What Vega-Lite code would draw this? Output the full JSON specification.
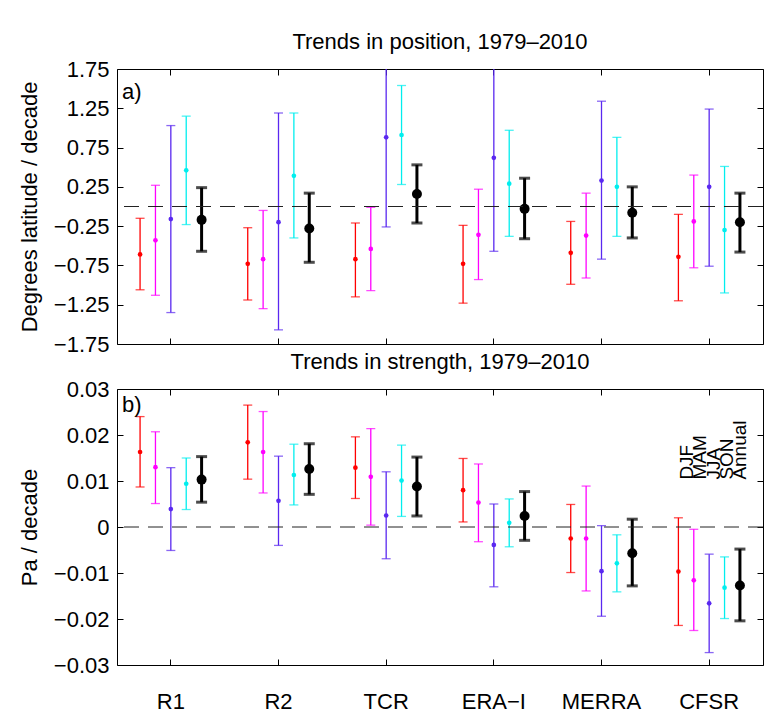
{
  "$schema": "https://vega.github.io/schema/vega-lite/v6.json",
  "background": "white",
  "padding": {"left": 17, "top": 30, "right": 0, "bottom": 0},
  "spacing": -6,
  "datasets": {
    "position": [
      {"name": "R1", "season": "DJF", "mean": -0.61, "lo": -1.06, "hi": -0.15},
      {"name": "R1", "season": "MAM", "mean": -0.43, "lo": -1.13, "hi": 0.27},
      {"name": "R1", "season": "JJA", "mean": -0.16, "lo": -1.35, "hi": 1.03},
      {"name": "R1", "season": "SON", "mean": 0.46, "lo": -0.23, "hi": 1.15},
      {"name": "R1", "season": "Annual", "mean": -0.17, "lo": -0.57, "hi": 0.24},
      {"name": "R2", "season": "DJF", "mean": -0.73, "lo": -1.19, "hi": -0.27},
      {"name": "R2", "season": "MAM", "mean": -0.67, "lo": -1.3, "hi": -0.05},
      {"name": "R2", "season": "JJA", "mean": -0.2, "lo": -1.57, "hi": 1.19},
      {"name": "R2", "season": "SON", "mean": 0.39, "lo": -0.4, "hi": 1.19},
      {"name": "R2", "season": "Annual", "mean": -0.28, "lo": -0.71, "hi": 0.17},
      {"name": "TCR", "season": "DJF", "mean": -0.67, "lo": -1.15, "hi": -0.21},
      {"name": "TCR", "season": "MAM", "mean": -0.54, "lo": -1.07, "hi": -0.01},
      {"name": "TCR", "season": "JJA", "mean": 0.88, "lo": -0.26, "hi": 2.03},
      {"name": "TCR", "season": "SON", "mean": 0.91, "lo": 0.28, "hi": 1.54},
      {"name": "TCR", "season": "Annual", "mean": 0.16, "lo": -0.21, "hi": 0.53},
      {"name": "ERA\u2212I", "season": "DJF", "mean": -0.73, "lo": -1.23, "hi": -0.24},
      {"name": "ERA\u2212I", "season": "MAM", "mean": -0.36, "lo": -0.93, "hi": 0.22},
      {"name": "ERA\u2212I", "season": "JJA", "mean": 0.62, "lo": -0.57, "hi": 1.81},
      {"name": "ERA\u2212I", "season": "SON", "mean": 0.29, "lo": -0.38, "hi": 0.97},
      {"name": "ERA\u2212I", "season": "Annual", "mean": -0.03, "lo": -0.41, "hi": 0.36},
      {"name": "MERRA", "season": "DJF", "mean": -0.59, "lo": -0.99, "hi": -0.19},
      {"name": "MERRA", "season": "MAM", "mean": -0.37, "lo": -0.91, "hi": 0.17},
      {"name": "MERRA", "season": "JJA", "mean": 0.33, "lo": -0.67, "hi": 1.34},
      {"name": "MERRA", "season": "SON", "mean": 0.25, "lo": -0.38, "hi": 0.88},
      {"name": "MERRA", "season": "Annual", "mean": -0.08, "lo": -0.4, "hi": 0.25},
      {"name": "CFSR", "season": "DJF", "mean": -0.64, "lo": -1.2, "hi": -0.1},
      {"name": "CFSR", "season": "MAM", "mean": -0.19, "lo": -0.78, "hi": 0.4},
      {"name": "CFSR", "season": "JJA", "mean": 0.25, "lo": -0.76, "hi": 1.24},
      {"name": "CFSR", "season": "SON", "mean": -0.3, "lo": -1.1, "hi": 0.51},
      {"name": "CFSR", "season": "Annual", "mean": -0.2, "lo": -0.58, "hi": 0.17}
    ],
    "strength": [
      {"name": "R1", "season": "DJF", "mean": 0.0163, "lo": 0.0087, "hi": 0.024},
      {"name": "R1", "season": "MAM", "mean": 0.013, "lo": 0.0051, "hi": 0.0207},
      {"name": "R1", "season": "JJA", "mean": 0.0039, "lo": -0.0051, "hi": 0.0129},
      {"name": "R1", "season": "SON", "mean": 0.0094, "lo": 0.0038, "hi": 0.015},
      {"name": "R1", "season": "Annual", "mean": 0.0103, "lo": 0.0054, "hi": 0.0153},
      {"name": "R2", "season": "DJF", "mean": 0.0184, "lo": 0.0104, "hi": 0.0265},
      {"name": "R2", "season": "MAM", "mean": 0.0163, "lo": 0.0074, "hi": 0.0251},
      {"name": "R2", "season": "JJA", "mean": 0.0057, "lo": -0.004, "hi": 0.0154},
      {"name": "R2", "season": "SON", "mean": 0.0113, "lo": 0.0048, "hi": 0.018},
      {"name": "R2", "season": "Annual", "mean": 0.0126, "lo": 0.0071, "hi": 0.0181},
      {"name": "TCR", "season": "DJF", "mean": 0.0129, "lo": 0.0062, "hi": 0.0196},
      {"name": "TCR", "season": "MAM", "mean": 0.0109, "lo": 0.0004, "hi": 0.0214},
      {"name": "TCR", "season": "JJA", "mean": 0.0025, "lo": -0.0069, "hi": 0.012},
      {"name": "TCR", "season": "SON", "mean": 0.0101, "lo": 0.0023, "hi": 0.0178},
      {"name": "TCR", "season": "Annual", "mean": 0.0088, "lo": 0.0024, "hi": 0.0152},
      {"name": "ERA\u2212I", "season": "DJF", "mean": 0.008, "lo": 0.0011, "hi": 0.0149},
      {"name": "ERA\u2212I", "season": "MAM", "mean": 0.0053, "lo": -0.0032, "hi": 0.0137},
      {"name": "ERA\u2212I", "season": "JJA", "mean": -0.0039, "lo": -0.013, "hi": 0.005},
      {"name": "ERA\u2212I", "season": "SON", "mean": 0.0009, "lo": -0.0043, "hi": 0.0061},
      {"name": "ERA\u2212I", "season": "Annual", "mean": 0.0024, "lo": -0.0029, "hi": 0.0077},
      {"name": "MERRA", "season": "DJF", "mean": -0.0025, "lo": -0.0099, "hi": 0.0049},
      {"name": "MERRA", "season": "MAM", "mean": -0.0025, "lo": -0.0139, "hi": 0.0089},
      {"name": "MERRA", "season": "JJA", "mean": -0.0096, "lo": -0.0194, "hi": 0.0003},
      {"name": "MERRA", "season": "SON", "mean": -0.0079, "lo": -0.0141, "hi": -0.0017},
      {"name": "MERRA", "season": "Annual", "mean": -0.0057, "lo": -0.0128, "hi": 0.0017},
      {"name": "CFSR", "season": "DJF", "mean": -0.0097, "lo": -0.0214, "hi": 0.002},
      {"name": "CFSR", "season": "MAM", "mean": -0.0116, "lo": -0.0225, "hi": -0.0005},
      {"name": "CFSR", "season": "JJA", "mean": -0.0166, "lo": -0.0273, "hi": -0.0059},
      {"name": "CFSR", "season": "SON", "mean": -0.0132, "lo": -0.0199, "hi": -0.0065},
      {"name": "CFSR", "season": "Annual", "mean": -0.0127, "lo": -0.0204, "hi": -0.0048}
    ],
    "legend": [
      {"season": "DJF"}, {"season": "MAM"}, {"season": "JJA"}, {"season": "SON"}, {"season": "Annual"}
    ]
  },
  "config": {
    "font": "Liberation Sans",
    "view": {"stroke": "black", "strokeWidth": 1},
    "axis": {
      "grid": false, "domain": false, "tickColor": "black", "tickSize": -6, "tickWidth": 1,
      "labelFont": "Liberation Sans", "labelFontSize": 22, "labelColor": "black",
      "titleFont": "Liberation Sans", "titleFontSize": 22, "titleFontWeight": "normal", "titleColor": "black"
    },
    "title": {"font": "Liberation Sans", "fontSize": 22, "fontWeight": "normal", "color": "black", "offset": 4}
  },
  "vconcat": [
    {
      "width": 646, "height": 275,
      "title": "Trends in position, 1979\u20132010",
      "data": {"name": "position"},
      "layer": [
        {
          "transform": [{"filter": "datum.season !== 'Annual'"}],
          "mark": {"type": "rule", "clip": true, "strokeWidth": 1.3},
          "encoding": {
            "x": {"field": "name", "type": "nominal", "scale": {"type": "band", "domain": ["R1", "R2", "TCR", "ERA\u2212I", "MERRA", "CFSR"], "paddingInner": 0, "paddingOuter": 0}, "axis": {"orient": "bottom", "labels": false, "title": null}},
            "xOffset": {"field": "season", "type": "nominal", "scale": {"domain": ["DJF", "MAM", "JJA", "SON", "Annual"], "paddingInner": 0, "paddingOuter": 2.5}},
            "y": {"field": "lo", "type": "quantitative", "scale": {"domain": [-1.75, 1.75], "nice": false, "zero": false}, "axis": {"orient": "left", "values": [-1.75, -1.25, -0.75, -0.25, 0.25, 0.75, 1.25, 1.75], "format": ".2f", "labelPadding": 14, "title": "Degrees latitude / decade", "titlePadding": 12}},
            "y2": {"field": "hi"},
            "color": {"field": "season", "type": "nominal", "scale": {"domain": ["DJF", "MAM", "JJA", "SON", "Annual"], "range": ["#ff0000", "#ff00ff", "#5a28f0", "#00eeee", "#000000"]}, "legend": null}
          }
        },
        {
          "transform": [{"filter": "datum.season === 'Annual'"}],
          "mark": {"type": "rule", "clip": true, "strokeWidth": 3, "color": "black"},
          "encoding": {
            "x": {"field": "name", "type": "nominal", "axis": null},
            "xOffset": {"field": "season", "type": "nominal"},
            "y": {"field": "lo", "type": "quantitative", "axis": null},
            "y2": {"field": "hi"}
          }
        },
        {
          "transform": [{"filter": "datum.season !== 'Annual'"}, {"fold": ["lo", "hi"], "as": ["k", "v"]}],
          "mark": {"type": "tick", "size": 9, "thickness": 1.3, "clip": true},
          "encoding": {
            "x": {"field": "name", "type": "nominal", "axis": null},
            "xOffset": {"field": "season", "type": "nominal"},
            "y": {"field": "v", "type": "quantitative", "axis": null},
            "color": {"field": "season", "type": "nominal", "legend": null}
          }
        },
        {
          "transform": [{"filter": "datum.season === 'Annual'"}, {"fold": ["lo", "hi"], "as": ["k", "v"]}],
          "mark": {"type": "tick", "size": 11, "thickness": 3, "clip": true, "color": "black"},
          "encoding": {
            "x": {"field": "name", "type": "nominal", "axis": null},
            "xOffset": {"field": "season", "type": "nominal"},
            "y": {"field": "v", "type": "quantitative", "axis": null}
          }
        },
        {
          "transform": [{"filter": "datum.season !== 'Annual'"}],
          "mark": {"type": "point", "filled": true, "opacity": 1, "size": 22},
          "encoding": {
            "x": {"field": "name", "type": "nominal", "axis": null},
            "xOffset": {"field": "season", "type": "nominal"},
            "y": {"field": "mean", "type": "quantitative", "axis": null},
            "color": {"field": "season", "type": "nominal", "legend": null}
          }
        },
        {
          "transform": [{"filter": "datum.season === 'Annual'"}],
          "mark": {"type": "point", "filled": true, "opacity": 1, "size": 100, "color": "black"},
          "encoding": {
            "x": {"field": "name", "type": "nominal", "axis": null},
            "xOffset": {"field": "season", "type": "nominal"},
            "y": {"field": "mean", "type": "quantitative", "axis": null}
          }
        },
        {
          "data": {"values": [{}]},
          "mark": {"type": "rule", "strokeDash": [15, 9], "color": "#222", "strokeWidth": 1},
          "encoding": {"y": {"datum": 0, "type": "quantitative", "axis": null}}
        },
        {
          "data": {"values": [{}]},
          "mark": {"type": "text", "align": "left", "baseline": "middle", "dx": 5, "fontSize": 22},
          "encoding": {
            "x": {"datum": "R1", "bandPosition": 0, "axis": null},
            "y": {"datum": 1.46, "type": "quantitative", "axis": null},
            "text": {"value": "a)"}
          }
        },
        {
          "mark": {"type": "point", "opacity": 0},
          "encoding": {
            "x": {"field": "name", "type": "nominal", "axis": {"orient": "top", "labels": false, "title": null}},
            "y": {"field": "mean", "type": "quantitative", "axis": {"orient": "right", "values": [-1.75, -1.25, -0.75, -0.25, 0.25, 0.75, 1.25, 1.75], "labels": false, "title": null}}
          }
        }
      ],
      "resolve": {"axis": {"x": "independent", "y": "independent"}}
    },
    {
      "width": 646, "height": 276,
      "title": "Trends in strength, 1979\u20132010",
      "layer": [
        {
          "data": {"name": "strength"},
          "layer": [
            {
              "transform": [{"filter": "datum.season !== 'Annual'"}],
              "mark": {"type": "rule", "strokeWidth": 1.3},
              "encoding": {
                "x": {"field": "name", "type": "nominal", "scale": {"type": "band", "domain": ["R1", "R2", "TCR", "ERA\u2212I", "MERRA", "CFSR"], "paddingInner": 0, "paddingOuter": 0}, "axis": {"orient": "bottom", "labelAngle": 0, "labelPadding": 32, "title": null}},
                "xOffset": {"field": "season", "type": "nominal", "scale": {"domain": ["DJF", "MAM", "JJA", "SON", "Annual"], "paddingInner": 0, "paddingOuter": 2.5}},
                "y": {"field": "lo", "type": "quantitative", "scale": {"domain": [-0.03, 0.03], "nice": false, "zero": false}, "axis": {"orient": "left", "values": [-0.03, -0.02, -0.01, 0, 0.01, 0.02, 0.03], "format": ".2~f", "labelPadding": 14, "title": "Pa / decade", "titlePadding": 12}},
                "y2": {"field": "hi"},
                "color": {"field": "season", "type": "nominal", "scale": {"domain": ["DJF", "MAM", "JJA", "SON", "Annual"], "range": ["#ff0000", "#ff00ff", "#5a28f0", "#00eeee", "#000000"]}, "legend": null}
              }
            },
            {
              "transform": [{"filter": "datum.season === 'Annual'"}],
              "mark": {"type": "rule", "strokeWidth": 3, "color": "black"},
              "encoding": {
                "x": {"field": "name", "type": "nominal", "axis": null},
                "xOffset": {"field": "season", "type": "nominal"},
                "y": {"field": "lo", "type": "quantitative", "axis": null},
                "y2": {"field": "hi"}
              }
            },
            {
              "transform": [{"filter": "datum.season !== 'Annual'"}, {"fold": ["lo", "hi"], "as": ["k", "v"]}],
              "mark": {"type": "tick", "size": 9, "thickness": 1.3},
              "encoding": {
                "x": {"field": "name", "type": "nominal", "axis": null},
                "xOffset": {"field": "season", "type": "nominal"},
                "y": {"field": "v", "type": "quantitative", "axis": null},
                "color": {"field": "season", "type": "nominal", "legend": null}
              }
            },
            {
              "transform": [{"filter": "datum.season === 'Annual'"}, {"fold": ["lo", "hi"], "as": ["k", "v"]}],
              "mark": {"type": "tick", "size": 11, "thickness": 3, "color": "black"},
              "encoding": {
                "x": {"field": "name", "type": "nominal", "axis": null},
                "xOffset": {"field": "season", "type": "nominal"},
                "y": {"field": "v", "type": "quantitative", "axis": null}
              }
            },
            {
              "transform": [{"filter": "datum.season !== 'Annual'"}],
              "mark": {"type": "point", "filled": true, "opacity": 1, "size": 22},
              "encoding": {
                "x": {"field": "name", "type": "nominal", "axis": null},
                "xOffset": {"field": "season", "type": "nominal"},
                "y": {"field": "mean", "type": "quantitative", "axis": null},
                "color": {"field": "season", "type": "nominal", "legend": null}
              }
            },
            {
              "transform": [{"filter": "datum.season === 'Annual'"}],
              "mark": {"type": "point", "filled": true, "opacity": 1, "size": 100, "color": "black"},
              "encoding": {
                "x": {"field": "name", "type": "nominal", "axis": null},
                "xOffset": {"field": "season", "type": "nominal"},
                "y": {"field": "mean", "type": "quantitative", "axis": null}
              }
            },
            {
              "data": {"values": [{}]},
              "mark": {"type": "rule", "strokeDash": [15, 9], "color": "#222", "strokeWidth": 1},
              "encoding": {"y": {"datum": 0, "type": "quantitative", "axis": null}}
            },
            {
              "data": {"values": [{}]},
              "mark": {"type": "text", "align": "left", "baseline": "middle", "dx": 5, "fontSize": 22},
              "encoding": {
                "x": {"datum": "R1", "bandPosition": 0, "axis": null},
                "y": {"datum": 0.0266, "type": "quantitative", "axis": null},
                "text": {"value": "b)"}
              }
            },
            {
              "mark": {"type": "point", "opacity": 0},
              "encoding": {
                "x": {"field": "name", "type": "nominal", "axis": {"orient": "top", "labels": false, "title": null}},
                "y": {"field": "mean", "type": "quantitative", "axis": {"orient": "right", "values": [-0.03, -0.02, -0.01, 0, 0.01, 0.02, 0.03], "labels": false, "title": null}}
              }
            }
          ],
          "resolve": {"axis": {"x": "independent", "y": "independent"}}
        },
        {
          "data": {"name": "legend"},
          "mark": {"type": "text", "angle": 270, "align": "left", "baseline": "middle", "fontSize": 19, "color": "black"},
          "encoding": {
            "x": {"field": "season", "type": "nominal", "scale": {"type": "point", "domain": ["DJF", "MAM", "JJA", "SON", "Annual"], "range": [563, 630]}, "axis": null},
            "y": {"datum": 0.0103, "type": "quantitative", "axis": null},
            "text": {"field": "season"}
          }
        }
      ],
      "resolve": {"scale": {"x": "independent"}, "axis": {"x": "independent", "y": "independent"}}
    }
  ]
}
